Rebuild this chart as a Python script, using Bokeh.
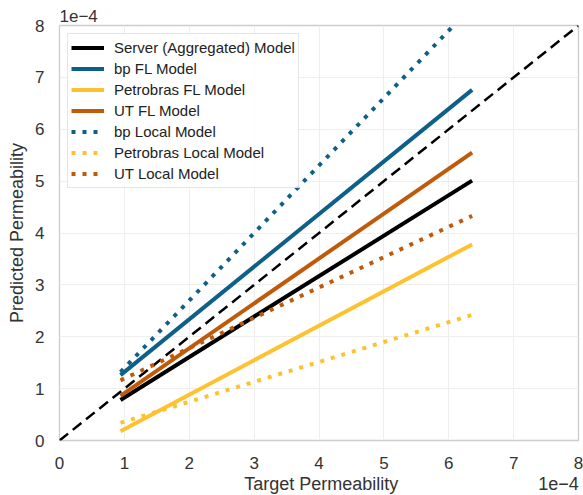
from bokeh.plotting import figure
from bokeh.models import Legend, LegendItem, FixedTicker, Range1d, Title
from bokeh.embed import file_html
from bokeh.resources import INLINE

# values in units of 1e-4
diag_x = [0, 8]
diag_y = [0, 8]

target = [0.94, 6.36]
server_fl = [0.78, 5.01]
bp_fl = [1.26, 6.76]
petro_fl = [0.18, 3.78]
ut_fl = [0.86, 5.55]
bp_local = [1.32, 8.37]
petro_local = [0.34, 2.42]
ut_local = [1.16, 4.33]

ticks = [0, 1, 2, 3, 4, 5, 6, 7, 8]
x_label = "Target Permeability"
y_label = "Predicted Permeability"
scale_text = "1e\u22124"

BLACK = "#000000"
BLUE = "#0e6088"
YELLOW = "#fdc22f"
ORANGE = "#c05a0b"
FONT = "Liberation Sans"
NB = "\u00a0"

p = figure(width=583, height=495, frame_width=519, frame_height=415,
           min_border_left=59, min_border_right=5, min_border_top=25, min_border_bottom=55,
           output_backend="svg", toolbar_location=None,
           x_range=Range1d(0, 8), y_range=Range1d(0, 8))

p.outline_line_color = "#cccccc"
p.outline_line_width = 1.3
p.grid.grid_line_color = "#eeeeee"
p.grid.grid_line_width = 1
p.xaxis.ticker = FixedTicker(ticks=ticks)
p.yaxis.ticker = FixedTicker(ticks=ticks)
for ax in (p.xaxis, p.yaxis):
    ax.axis_line_color = None
    ax.major_tick_line_color = None
    ax.minor_tick_line_color = None
    ax.major_label_text_font = FONT
    ax.major_label_text_font_size = "17px"
    ax.major_label_text_color = "#333333"
    ax.axis_label_text_font = FONT
    ax.axis_label_text_font_size = "18px"
    ax.axis_label_text_font_style = "normal"
    ax.axis_label_text_color = "#333333"
# x-axis label row also carries the scale factor at its right end
p.xaxis.axis_label = NB * 37 + x_label + NB * 28 + scale_text
p.yaxis.axis_label = y_label
p.xaxis.major_label_standoff = 10
p.yaxis.major_label_standoff = 9
p.xaxis.axis_label_standoff = 2
p.yaxis.axis_label_standoff = 5

p.line(diag_x, diag_y, line_color=BLACK, line_width=2.5, line_dash="11 6")

items = []
def add(y, color, name, dotted=False):
    if dotted:
        r = p.line(target, y, line_color=color, line_width=4, line_dash="4 7")
    else:
        r = p.line(target, y, line_color=color, line_width=4)
    items.append(LegendItem(label=name, renderers=[r]))

add(server_fl, BLACK, "Server (Aggregated) Model")
add(bp_fl, BLUE, "bp FL Model")
add(petro_fl, YELLOW, "Petrobras FL Model")
add(ut_fl, ORANGE, "UT FL Model")
add(bp_local, BLUE, "bp Local Model", True)
add(petro_local, YELLOW, "Petrobras Local Model", True)
add(ut_local, ORANGE, "UT Local Model", True)

legend = Legend(items=items, location="top_left", margin=8, padding=3, spacing=0,
                label_height=21, glyph_height=21, glyph_width=33, label_standoff=10,
                label_text_font=FONT, label_text_font_size="15px", label_text_color="#222222",
                border_line_color="#cccccc", border_line_width=1.2,
                background_fill_color="white", background_fill_alpha=0.85)
p.add_layout(legend, "center")

top_t = Title(text=scale_text, align="left", text_font=FONT, text_font_size="17px",
              text_font_style="normal", text_color="#333333", standoff=8, offset=0)
p.add_layout(top_t, "above")

open("out.html", "w").write(file_html(p, INLINE))
